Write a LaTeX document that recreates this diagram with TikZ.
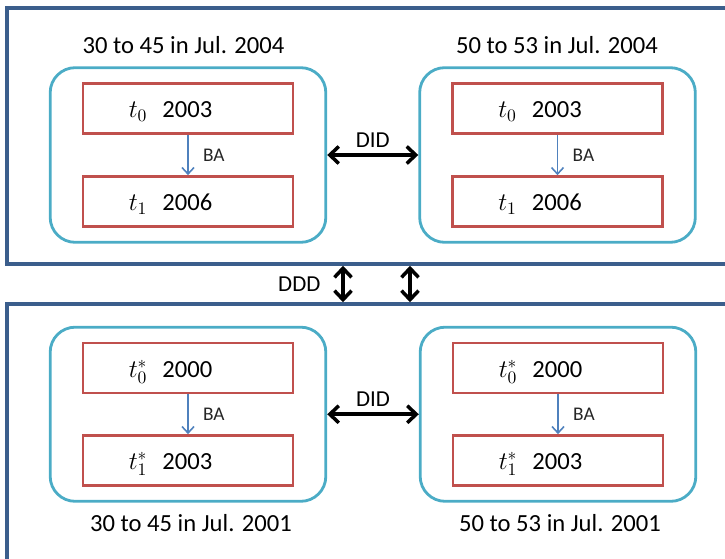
\documentclass[tikz,border=0pt]{standalone}
\usepackage{fontspec}
\setmainfont{Carlito}
\usetikzlibrary{positioning,arrows.meta,calc,fit}
\definecolor{frameC}{HTML}{3B5E8C}
\definecolor{groupC}{HTML}{4BACC6}
\definecolor{cellC}{HTML}{C0504D}
\definecolor{baC}{HTML}{4F81BD}
\newcommand{\cellpair}[2]{\hspace*{-7mm}#1\hspace{3mm}#2}
\tikzset{
  frame/.style={draw=frameC, line width=2pt, inner sep=0pt},
  grp/.style={draw=groupC, line width=1.6pt, rounded corners=0.5cm,
              inner xsep=0.63cm, inner ysep=0.29cm},
  cell/.style={draw=cellC, line width=1.5pt, minimum width=4.2cm,
               minimum height=1cm, text height=12pt, text depth=1.5pt,
               font=\fontsize{14}{17}\selectfont},
  ba/.style={-{Straight Barb[length=1.3mm,width=2.4mm]}, line width=0.9pt, draw=baC},
  balbl/.style={font=\fontsize{11}{13}\selectfont, text=black!85},
  dbl/.style={<->, >={Straight Barb[length=1.8mm,width=3.4mm]}, line width=2pt},
  ttl/.style={font=\fontsize{14}{17}\selectfont},
  dlbl/.style={font=\fontsize{13}{16}\selectfont},
}
\begin{document}
\begin{tikzpicture}
  \useasboundingbox (0,0) rectangle (14.5,-11.18);
  \clip (0,0) rectangle (14.5,-11.18);

  % ------------------------------------------------ the two periods
  \node[frame, minimum width=14.76cm, minimum height=5.12cm] (upper) at (7.52,-2.72) {};
  \node[frame, minimum width=14.76cm, minimum height=5.32cm] (lower) at (7.52,-8.74) {};

  % ------------------------------------------------ upper period, 2003 to 2006
  \node[cell] (tl0) at (3.76,-2.17) {\cellpair{$t_0$}{2003}};
  \node[cell] (tl1) at (3.76,-4.03) {\cellpair{$t_1$}{2006}};
  \node[cell] (tr0) at (11.15,-2.17) {\cellpair{$t_0$}{2003}};
  \node[cell] (tr1) at (11.15,-4.03) {\cellpair{$t_1$}{2006}};
  \node[grp, fit=(tl0)(tl1)] (gtl) {};
  \node[grp, fit=(tr0)(tr1)] (gtr) {};

  \node[ttl] (htl) at (3.67,-0.9) {30 to 45 in Jul. 2004};
  \node[ttl] (htr) at (11.14,-0.9) {50 to 53 in Jul. 2004};

  \draw[ba] (tl0) -- (tl1) node[midway, right=0.17cm, balbl] {BA};
  \draw[ba] (tr0) -- (tr1) node[midway, right=0.17cm, balbl] {BA};
  \draw[dbl] (gtl) -- (gtr) node[midway, above=0pt, dlbl] {DID};

  % ------------------------------------------------ lower period, 2000 to 2003
  \node[cell] (bl0) at (3.76,-7.36) {\cellpair{$t_0^*$}{2000}};
  \node[cell] (bl1) at (3.76,-9.21) {\cellpair{$t_1^*$}{2003}};
  \node[cell] (br0) at (11.16,-7.36) {\cellpair{$t_0^*$}{2000}};
  \node[cell] (br1) at (11.16,-9.21) {\cellpair{$t_1^*$}{2003}};
  \node[grp, fit=(bl0)(bl1)] (gbl) {};
  \node[grp, fit=(br0)(br1)] (gbr) {};

  \node[ttl] (hbl) at (3.82,-10.46) {30 to 45 in Jul. 2001};
  \node[ttl] (hbr) at (11.2,-10.46) {50 to 53 in Jul. 2001};

  \draw[ba] (bl0) -- (bl1) node[midway, right=0.17cm, balbl] {BA};
  \draw[ba] (br0) -- (br1) node[midway, right=0.17cm, balbl] {BA};
  \draw[dbl] (gbl) -- (gbr) node[midway, above=0pt, dlbl] {DID};

  % ------------------------------------------------ between the periods
  \coordinate (d1) at (6.86,0);
  \coordinate (d2) at (8.2,0);
  \draw[dbl] (d1 |- upper.south) -- (d1 |- lower.north)
    node[midway, left=0.3cm, dlbl] {DDD};
  \draw[dbl] (d2 |- upper.south) -- (d2 |- lower.north);
\end{tikzpicture}
\end{document}
